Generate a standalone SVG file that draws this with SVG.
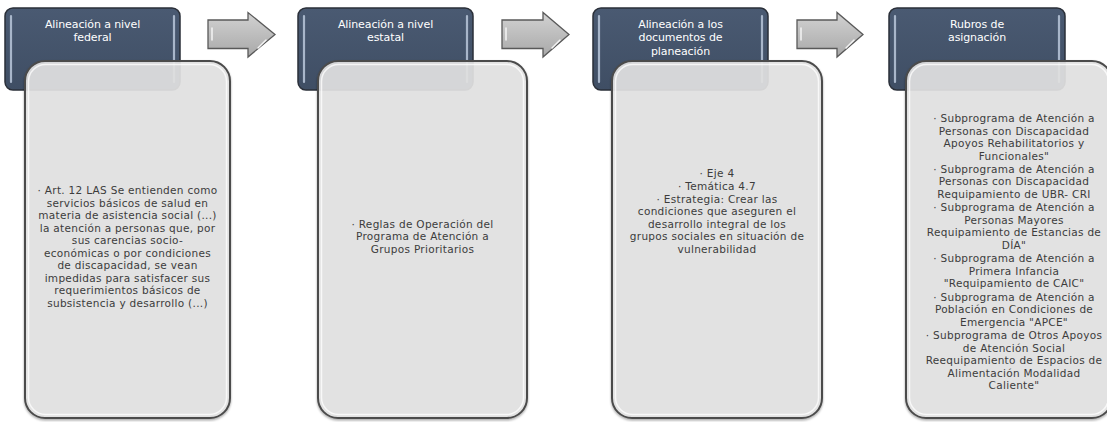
<svg xmlns="http://www.w3.org/2000/svg" width="1107" height="422" viewBox="0 0 1107 422">
<defs>
<linearGradient id="hdrGrad" x1="0" y1="0" x2="0" y2="1">
<stop offset="0" stop-color="#4a5a72"/>
<stop offset="1" stop-color="#3f4e64"/>
</linearGradient>
<linearGradient id="arrGrad" x1="0" y1="0" x2="0" y2="1">
<stop offset="0" stop-color="#d2d2d2"/>
<stop offset="0.5" stop-color="#bdbdbd"/>
<stop offset="1" stop-color="#a8a8a8"/>
</linearGradient>
<filter id="shadow" x="-10%" y="-10%" width="120%" height="120%">
<feDropShadow dx="0" dy="1.5" stdDeviation="1.2" flood-color="#000" flood-opacity="0.35"/>
</filter>
</defs>
<style>
.hdr{fill:url(#hdrGrad);stroke:#2a2f38;stroke-width:1.5}
.hdrHi{stroke:#a8b6ca;stroke-width:2.2;stroke-linecap:round;fill:none}
.box{fill:#e3e3e3;fill-opacity:0.9;stroke:#4b4b4b;stroke-width:2}
.boxHi{fill:none;stroke:#ffffff;stroke-opacity:0.75;stroke-width:1.5}
.arr{fill:url(#arrGrad);stroke:#595959;stroke-width:1.3;stroke-linejoin:miter}
.arrHi{fill:none;stroke:#f4f4f4;stroke-width:1.5;stroke-linecap:round}
.ht{font-family:"DejaVu Sans","Open Sans",sans-serif;font-size:11px;fill:#ffffff;text-anchor:middle;letter-spacing:-0.1px}
.ct{font-family:"DejaVu Sans","Open Sans",sans-serif;font-size:10.5px;fill:#3c3c3c;text-anchor:middle;letter-spacing:0.3px}
</style>

<g id="connectors">
<g id="arrow1">
<path class="arr" d="M208,20 H248 V12.5 L275,34.5 L248,57 V48.5 H208 Z"/>
<path class="arrHi" d="M212,28 V40"/>
<path class="arrHi" d="M266,40 L258,48"/>
</g>
<g id="arrow2">
<path class="arr" d="M502,20 H543 V12.5 L569,34.5 L543,57 V48.5 H502 Z"/>
<path class="arrHi" d="M506,28 V40"/>
<path class="arrHi" d="M560,40 L552,48"/>
</g>
<g id="arrow3">
<path class="arr" d="M797,20 H837 V12.5 L863,34.5 L837,57 V48.5 H797 Z"/>
<path class="arrHi" d="M801,28 V40"/>
<path class="arrHi" d="M854,40 L846,48"/>
</g>
</g>

<g id="node1">
<rect class="hdr" x="5" y="8" width="175" height="82" rx="8"/>
<path class="hdrHi" d="M11,16 V82 M174,16 V82"/>
<text class="ht" x="92.5" y="27.5">Alineación a nivel</text>
<text class="ht" x="92.5" y="40.5">federal</text>
<rect class="box" x="25" y="61" width="205" height="357" rx="20" filter="url(#shadow)"/>
<rect class="boxHi" x="28.5" y="64.5" width="198" height="350" rx="17"/>
<text class="ct" x="127.5" y="194">· Art. 12 LAS Se entienden como</text>
<text class="ct" x="127.5" y="206.5">servicios básicos de salud en</text>
<text class="ct" x="127.5" y="219">materia de asistencia social (...)</text>
<text class="ct" x="127.5" y="231.5">la atención a personas que, por</text>
<text class="ct" x="127.5" y="244">sus carencias socio-</text>
<text class="ct" x="127.5" y="256.5">económicas o por condiciones</text>
<text class="ct" x="127.5" y="269">de discapacidad, se vean</text>
<text class="ct" x="127.5" y="281.5">impedidas para satisfacer sus</text>
<text class="ct" x="127.5" y="294">requerimientos básicos de</text>
<text class="ct" x="127.5" y="306.5">subsistencia y desarrollo (...)</text>
</g>

<g id="node2">
<rect class="hdr" x="298" y="8" width="175" height="82" rx="8"/>
<path class="hdrHi" d="M304,16 V82 M467,16 V82"/>
<text class="ht" x="385.5" y="27.5">Alineación a nivel</text>
<text class="ht" x="385.5" y="40.5">estatal</text>
<rect class="box" x="318" y="61" width="209" height="357" rx="20" filter="url(#shadow)"/>
<rect class="boxHi" x="321.5" y="64.5" width="202" height="350" rx="17"/>
<text class="ct" x="422.5" y="227.5">· Reglas de Operación del</text>
<text class="ct" x="422.5" y="240">Programa de Atención a</text>
<text class="ct" x="422.5" y="252.5">Grupos Prioritarios</text>
</g>

<g id="node3">
<rect class="hdr" x="593" y="8" width="175" height="82" rx="8"/>
<path class="hdrHi" d="M599,16 V82 M762,16 V82"/>
<text class="ht" x="680.5" y="27.5">Alineación a los</text>
<text class="ht" x="680.5" y="41">documentos de</text>
<text class="ht" x="680.5" y="54.5">planeación</text>
<rect class="box" x="612" y="61" width="210" height="357" rx="20" filter="url(#shadow)"/>
<rect class="boxHi" x="615.5" y="64.5" width="203" height="350" rx="17"/>
<text class="ct" x="717" y="176.5">· Eje 4</text>
<text class="ct" x="717" y="189.5">· Temática 4.7</text>
<text class="ct" x="717" y="202.5">· Estrategia: Crear las</text>
<text class="ct" x="717" y="215">condiciones que aseguren el</text>
<text class="ct" x="717" y="227.5">desarrollo integral de los</text>
<text class="ct" x="717" y="240">grupos sociales en situación de</text>
<text class="ct" x="717" y="252.5">vulnerabilidad</text>
</g>

<g id="node4">
<rect class="hdr" x="889" y="8" width="176" height="82" rx="8"/>
<path class="hdrHi" d="M895,16 V82 M1059,16 V82"/>
<text class="ht" x="977" y="27.5">Rubros de</text>
<text class="ht" x="977" y="40.5">asignación</text>
<rect class="box" x="906" y="61" width="206" height="357" rx="20" filter="url(#shadow)"/>
<rect class="boxHi" x="909.5" y="64.5" width="199" height="350" rx="17"/>
<text class="ct" x="1014" y="121.5">· Subprograma de Atención a</text>
<text class="ct" x="1014" y="134.5">Personas con Discapacidad</text>
<text class="ct" x="1014" y="147">Apoyos Rehabilitatorios y</text>
<text class="ct" x="1014" y="159.5">Funcionales"</text>
<text class="ct" x="1014" y="172.5">· Subprograma de Atención a</text>
<text class="ct" x="1014" y="185">Personas con Discapacidad</text>
<text class="ct" x="1014" y="197.5">Requipamiento de UBR- CRI</text>
<text class="ct" x="1014" y="211">· Subprograma de Atención a</text>
<text class="ct" x="1014" y="223.5">Personas Mayores</text>
<text class="ct" x="1014" y="236">Requipamiento de Estancias de</text>
<text class="ct" x="1014" y="248.5">DÍA"</text>
<text class="ct" x="1014" y="262">· Subprograma de Atención a</text>
<text class="ct" x="1014" y="274.5">Primera Infancia</text>
<text class="ct" x="1014" y="287">"Requipamiento de CAIC"</text>
<text class="ct" x="1014" y="300.5">· Subprograma de Atención a</text>
<text class="ct" x="1014" y="313">Población en Condiciones de</text>
<text class="ct" x="1014" y="325.5">Emergencia "APCE"</text>
<text class="ct" x="1014" y="339">· Subprograma de Otros Apoyos</text>
<text class="ct" x="1014" y="351.5">de Atención Social</text>
<text class="ct" x="1014" y="364">Reequipamiento de Espacios de</text>
<text class="ct" x="1014" y="376.5">Alimentación Modalidad</text>
<text class="ct" x="1014" y="389">Caliente"</text>
</g>
</svg>
